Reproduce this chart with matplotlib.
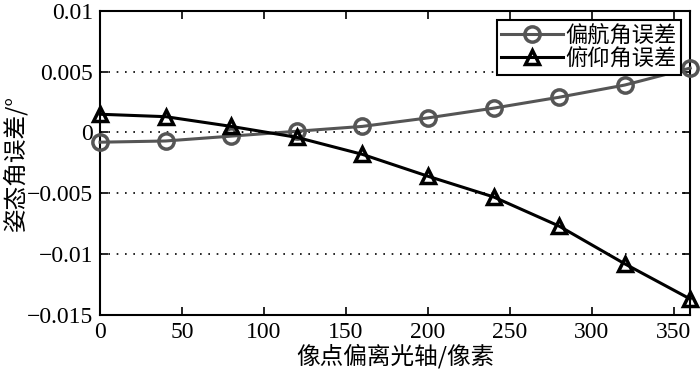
import matplotlib
matplotlib.use('Agg')
import matplotlib.pyplot as plt

# pixel offset from optical axis
x = [0, 40, 80, 120, 160, 200, 240, 280, 320, 360]
yaw_err = [-0.0008, -0.0007, -0.0003, 0.0001, 0.0005, 0.0012, 0.0020, 0.0029, 0.0039, 0.0053]
pitch_err = [0.0015, 0.0013, 0.0005, -0.0004, -0.0018, -0.0036, -0.0053, -0.0077, -0.0108, -0.0137]
xticks = [0, 50, 100, 150, 200, 250, 300, 350]
yticks = [-0.015, -0.01, -0.005, 0, 0.005, 0.01]
yticklabels = ['\u22120.015', '\u22120.01', '\u22120.005', '0', '0.005', '0.01']

plt.rcParams['font.family'] = ['Liberation Serif', 'Noto Sans CJK SC']
cjk = ['Noto Sans CJK SC', 'DejaVu Sans']

fig = plt.figure(figsize=(7, 3.77), dpi=100)
ax = fig.add_axes([0.143, 0.165, 0.843, 0.806])

ax.plot(x, yaw_err, color='#555555', lw=2.2, marker='o', ms=11,
        mfc='none', mec='#555555', mew=2.5, label='偏航角误差', clip_on=False, zorder=3)
ax.plot(x, pitch_err, color='black', lw=2.2, marker='^', ms=10,
        mfc='none', mec='black', mew=2.5, label='俯仰角误差', clip_on=False, zorder=3)

ax.set_xlim(0, 360)
ax.set_ylim(-0.015, 0.01)
ax.set_xticks(xticks)
ax.set_yticks(yticks)
ax.set_yticklabels(yticklabels)
ax.tick_params(direction='in', top=True, right=True, length=6, width=1.2,
               labelsize=17, colors='black', pad=5)
for s in ax.spines.values():
    s.set_linewidth(1.5)
ax.yaxis.grid(True, linestyle=(0, (1, 4)), color='black', lw=1.2)

ax.set_xlabel('像点偏离光轴/像素', fontsize=17, family=cjk, labelpad=1)
ax.set_ylabel('姿态角误差/°', fontsize=17, family=cjk, labelpad=0)

leg = ax.legend(loc='upper right', prop={'family': cjk, 'size': 16},
                fancybox=False, framealpha=1, edgecolor='black',
                borderpad=0.2, handlelength=2.8, handletextpad=0.1,
                labelspacing=0.0, borderaxespad=0.4)
leg.get_frame().set_linewidth(1.5)
leg.set_zorder(5)

fig.savefig('out.png', dpi=100)
